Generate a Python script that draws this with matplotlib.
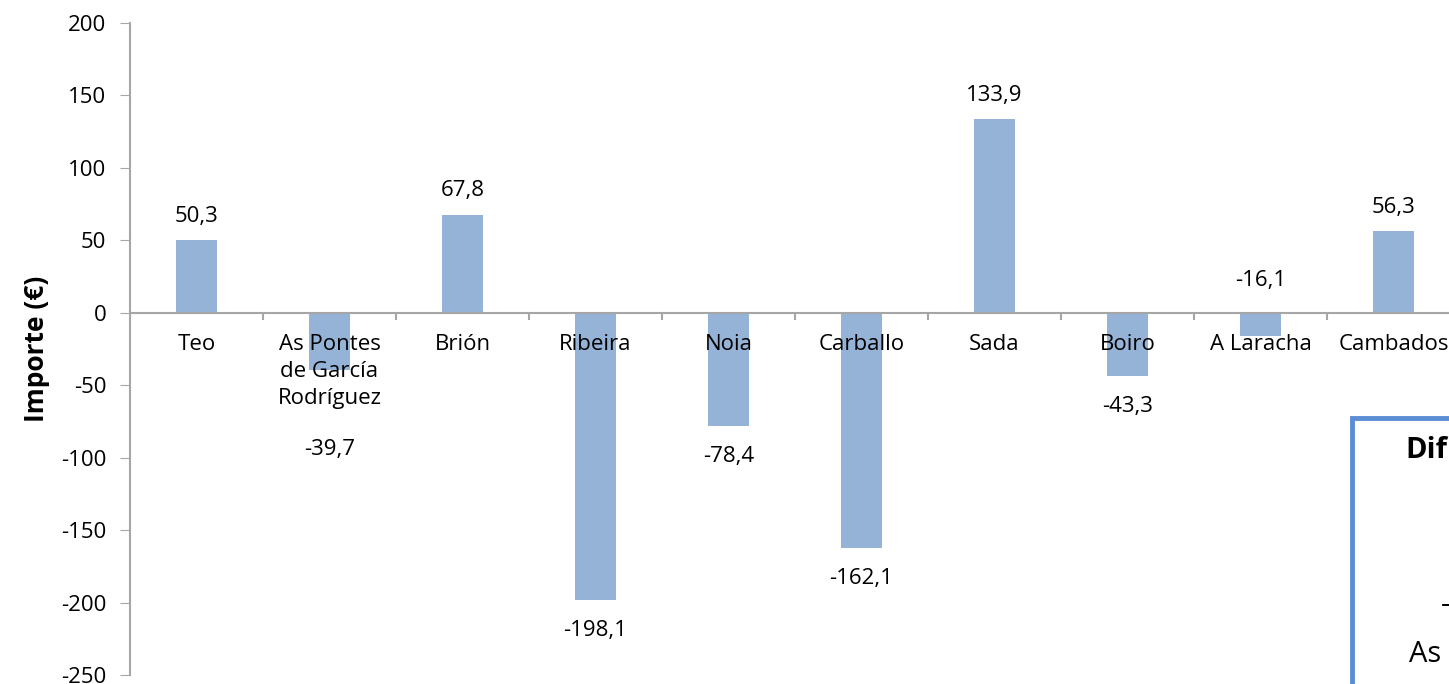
import matplotlib
matplotlib.use("Agg")
import matplotlib.pyplot as plt
from matplotlib.patches import Rectangle
import numpy as np

plt.rcParams['font.family'] = ['Open Sans', 'DejaVu Sans']
plt.rcParams['axes.unicode_minus'] = False

concellos = ["Teo", "As Pontes\nde García\nRodríguez", "Brión", "Ribeira", "Noia",
             "Carballo", "Sada", "Boiro", "A Laracha", "Cambados"]
importe = [50.3, -39.7, 67.8, -198.1, -78.4, -162.1, 133.9, -43.3, -16.1, 56.3]
etiquetas = ["50,3", "-39,7", "67,8", "-198,1", "-78,4", "-162,1", "133,9", "-43,3", "-16,1", "56,3"]

bar_color = "#95B3D7"
grey = "#A6A6A6"
fs = 16

fig = plt.figure(figsize=(14.49, 6.84), dpi=100)
ax = fig.add_axes([0.0897, 0.01316, 0.9103, 0.9532])

x = np.arange(len(concellos))
ax.bar(x, importe, width=0.31, color=bar_color, zorder=2)

ax.set_xlim(-0.5, 9.417)
ax.set_ylim(-250, 200)
ax.set_yticks(np.arange(-250, 201, 50))
ax.tick_params(axis='y', labelsize=fs, length=7, color=grey, pad=10)
ax.set_ylabel("Importe (€)", fontsize=19, fontweight='bold', labelpad=8)

for s in ['top', 'right', 'bottom']:
    ax.spines[s].set_visible(False)
ax.spines['left'].set_color(grey)
ax.spines['left'].set_linewidth(1.5)
ax.set_xticks([])
ax.axhline(0, color=grey, lw=1.5, zorder=3)

# ticks de categoria sobre o eixo cero
for b in np.arange(0.5, len(concellos), 1.0):
    ax.plot([b, b], [0, -4.5], color=grey, lw=1.5, zorder=3, clip_on=False)

for i, nome in enumerate(concellos):
    ax.annotate(nome, (x[i], 0), xytext=(0, -15), textcoords='offset points',
                ha='center', va='top', fontsize=fs, linespacing=1.38)

for i, (v, t) in enumerate(zip(importe, etiquetas)):
    if i == 1:
        ax.annotate(t, (x[i], v), xytext=(0, -57), textcoords='offset points',
                    ha='center', va='center', fontsize=fs)
    elif i == 8:
        ax.annotate(t, (x[i], 0), xytext=(0, 23), textcoords='offset points',
                    ha='center', va='center', fontsize=fs)
    else:
        off = 17 if v > 0 else -22
        ax.annotate(t, (x[i], v), xytext=(0, off), textcoords='offset points',
                    ha='center', va='center', fontsize=fs)

# caixa superposta (cortada no bordo da imaxe)
fig.patches.append(Rectangle((1352 / 1449, -0.1), 0.2, 1 - 418 / 684 + 0.1,
                             transform=fig.transFigure, fill=False,
                             edgecolor="#5B8DD6", lw=3.5, zorder=5))
fig.text(1405 / 1449, 1 - 450 / 684, "Dif", fontsize=21, fontweight='bold',
         va='center', ha='left')
fig.text(1441 / 1449, 1 - 606 / 684, "-", fontsize=21, va='center', ha='left')
fig.text(1409 / 1449, 1 - 655 / 684, "As", fontsize=21, va='center', ha='left')

fig.savefig("out.png", dpi=100)
